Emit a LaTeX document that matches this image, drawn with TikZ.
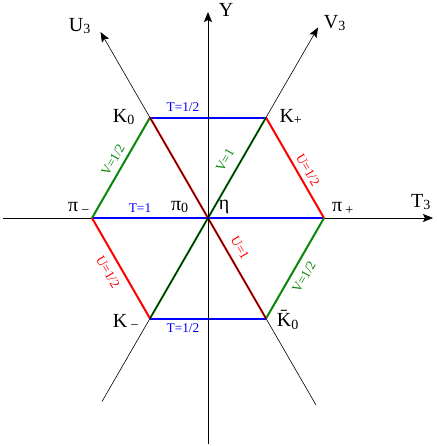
\documentclass[tikz,border=0pt]{standalone}
\usepackage{fontspec}
\setmainfont{Liberation Serif}
\usetikzlibrary{arrows.meta}
\definecolor{hgreen}{RGB}{10,135,10}
\begin{document}
\begin{tikzpicture}[x=0.75pt,y=-0.75pt,
  axis/.style={black,line width=0.45pt},
  axarrow/.style={-{Stealth[length=7.5pt,width=6pt,inset=1.5pt]}},
  edge/.style={line width=1.5pt},
  big/.style={font=\fontsize{15}{15}\selectfont,inner sep=0pt},
  lab/.style={font=\fontsize{10}{10}\selectfont,inner sep=0pt}]
\useasboundingbox (0,0) rectangle (436,446);
% vertices
\coordinate (O) at (208,218);
\coordinate (pp) at (324,218);
\coordinate (kp) at (266,117.5);
\coordinate (k0) at (150,117.5);
\coordinate (pm) at (92,218);
\coordinate (km) at (150,318.5);
\coordinate (kb) at (266,318.5);
% axis ends
\coordinate (t3a) at (3,218);
\coordinate (t3b) at (433,218);
\coordinate (ya) at (208,444);
\coordinate (yb) at (208,12);
\coordinate (ua) at (316,405);
\coordinate (ub) at (100.5,32);
\coordinate (va) at (102,401.5);
\coordinate (vb) at (318,27.5);
% horizontal axis
\draw[axis,axarrow] (t3a) -- (t3b);
% coloured lines
\draw[edge,blue] (k0) -- (kp);
\draw[edge,blue] (km) -- (kb);
\draw[edge,blue] (pm) -- (pp);
\draw[edge,hgreen] (pm) -- (k0);
\draw[edge,hgreen] (pp) -- (kb);
\draw[edge,hgreen] (km) -- (kp);
\draw[edge,red] (kp) -- (pp);
\draw[edge,red] (pm) -- (km);
\draw[edge,red] (k0) -- (kb);
% other axes
\draw[axis,axarrow] (ya) -- (yb);
\draw[axis,axarrow] (ua) -- (ub);
\draw[axis,axarrow] (va) -- (vb);
% axis labels
\node[big] (lY) at (226,10) {Y};
\node[big] (lT) at (421,202) {T\textsubscript{3}};
\node[big] (lU) at (80,26) {U\textsubscript{3}};
\node[big] (lV) at (335,23) {V\textsubscript{3}};
% particle labels
\node[big] (nk0) at (124,117) {K\textsubscript{0}};
\node[big] (nkp) at (291,117) {K\textsubscript{+}};
\node[big] (npm) at (79,208) {π\,\textsubscript{−}};
\node[big] (np0) at (180,207) {π\textsubscript{0}};
\node[big] (neta) at (224,207) {η};
\node[big] (npp) at (343,208) {π\,\textsubscript{+}};
\node[big] (nkm) at (126,322) {K\,\textsubscript{−}};
\node[big] (nkb) at (288,320) {\=K\textsubscript{0}};
% line labels
\node[lab,blue] (t1) at (183,107.5) {T=1/2};
\node[lab,blue] (t2) at (140,208.5) {T=1};
\node[lab,blue] (t3) at (183,328.5) {T=1/2};
\node[lab,hgreen,rotate=60] (v1) at (113,160) {V=1/2};
\node[lab,hgreen,rotate=60] (v2) at (225,160) {V=1};
\node[lab,hgreen,rotate=60] (v3) at (304,277) {V=1/2};
\node[lab,red,rotate=-60] (u1) at (308,170) {U=1/2};
\node[lab,red,rotate=-60] (u2) at (108,272) {U=1/2};
\node[lab,red,rotate=-60] (u3) at (240,248) {U=1};
\end{tikzpicture}
\end{document}
